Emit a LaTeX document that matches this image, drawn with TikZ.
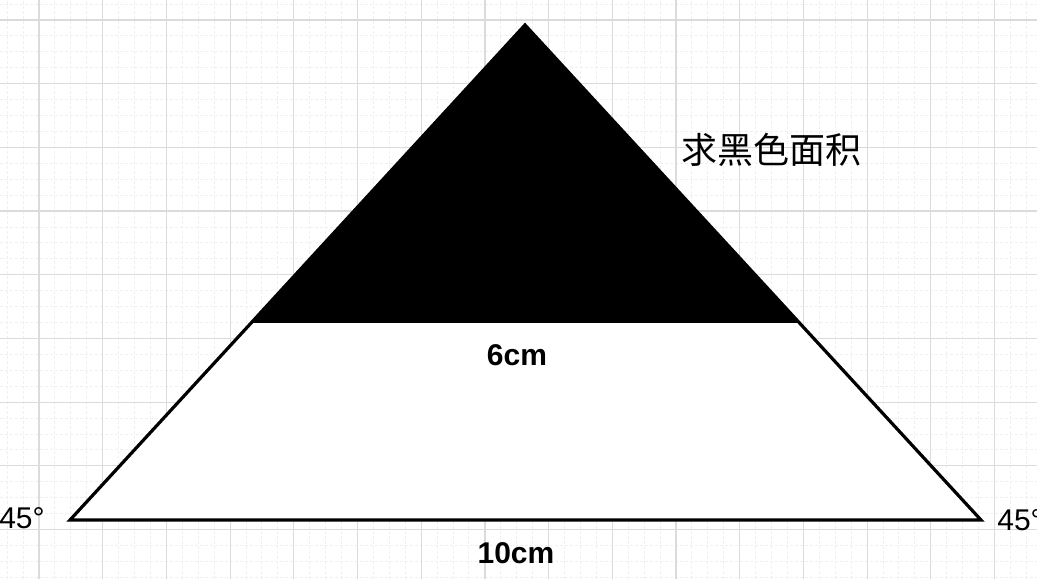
\documentclass[tikz,border=0pt]{standalone}
\usepackage{fontspec}
\setmainfont{Liberation Sans}
\newfontfamily\cjk{Noto Sans CJK SC}
\usetikzlibrary{positioning}

\begin{document}
\begin{tikzpicture}[x=1pt, y=1pt,
    dimtext/.style={font=\fontsize{30}{36}\selectfont\bfseries},
    angletext/.style={font=\fontsize{30}{36}\selectfont},
    majorline/.style={black!14, line width=1.2pt},
    minorline/.style={black!6, line width=1pt, dash pattern=on 3pt off 2pt}]
    \useasboundingbox (0,0) rectangle (1037,579);
    \fill[white] (0,0) rectangle (1037,579);

    % grid paper
    \foreach \k in {0,...,64}
        \draw[minorline] ({7.15+\k*15.925},0) -- ++(0,579);
    \foreach \k in {0,...,36}
        \draw[minorline] (0,{579-4.075-\k*15.925}) -- ++(1037,0);
    \foreach \k in {0,...,15}
        \draw[majorline] ({39+\k*63.7},0) -- ++(0,579);
    \foreach \k in {0,...,8}
        \draw[majorline] (0,{579-20-\k*63.7}) -- ++(1037,0);

    % triangle
    \coordinate (apex) at (525,554);
    \coordinate (baseleft) at (70,59);
    \coordinate (baseright) at (981,59);
    \coordinate (cutleft) at (251,256);
    \coordinate (cutright) at (799,256);
    \fill[white] (baseleft) -- (apex) -- (baseright) -- cycle;
    \fill[black] (cutleft) -- (apex) -- (cutright) -- cycle;
    \draw[line width=3.2pt] (baseleft) -- (apex) -- (baseright) -- cycle;

    % texts
    \node[dimtext] (cutlen) at (517,224) {6cm};
    \node[dimtext] (baselen) at (516,26) {10cm};
    \node[angletext] (angleleft) at (22,61) {45°};
    \node[angletext] (angleright) at (1020,59) {45°};
    \node[font=\cjk\fontsize{36}{42}\selectfont] (question) at (771,429) {求黑色面积};
\end{tikzpicture}
\end{document}
